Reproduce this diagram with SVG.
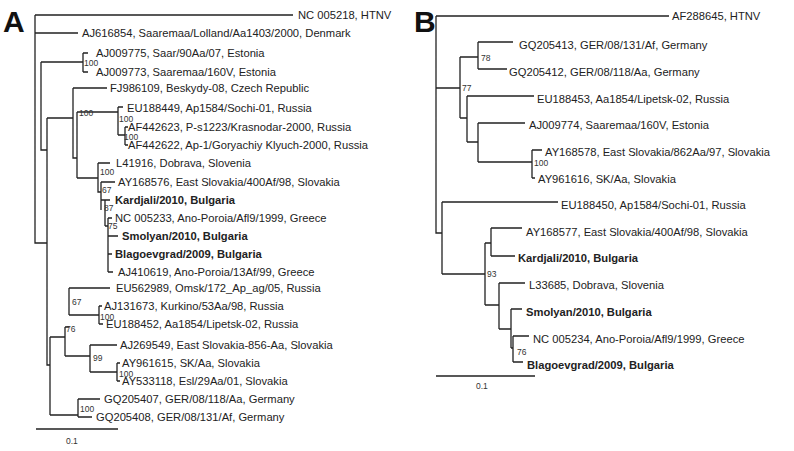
<svg xmlns="http://www.w3.org/2000/svg" width="794" height="451" viewBox="0 0 794 451">
<style>
.br{fill:none;stroke:#222;stroke-width:1.3}
.t{font-family:"Liberation Sans",Arial,sans-serif;font-size:11.2px;fill:#222}
.b{font-weight:bold}
.bs{font-family:"Liberation Sans",Arial,sans-serif;font-size:8.5px;fill:#333}
.p{font-family:"Liberation Sans",Arial,sans-serif;font-size:30px;font-weight:900;fill:#111}
</style>
<rect width="794" height="451" fill="#fff"/>
<text class="p" x="3" y="32">A</text>
<text class="p" x="414" y="32">B</text>
<g id="connectors">
<path class="br" d="M35,15V243H47 M35,15H293 M35,33H78 M41,62V150H47 M41,62H83 M83,53V72 M83,53H88 M83,72H88
M47,118V365H50 M47,118H73 M73,88V158H77 M73,88H107 M77,112V178 M77,112H118 M118,107V135 M118,107H123 M118,135H125 M125,127V145 M125,127H128 M125,145H128
M77,178H98 M98,163V192H101 M98,163H110 M101,182V210 M101,182H115 M101,200H105 M105,200V226 M105,200H110 M105,226H108 M108,218V272 M108,218H112 M108,236H118 M108,254H112 M108,272H113
M50,337V415 M50,337H65 M65,327V356 M65,327H69 M69,288V315 M69,288H110 M69,315H99 M99,306V324 M99,306H102 M99,324H103
M65,356H90 M90,345V372 M90,345H117 M90,372H117 M117,363V381 M117,363H120 M117,381H120
M50,415H78 M78,399V417 M78,399H100 M78,417H92
M36,429H118"/>
<path class="br" d="M436,16V233H442 M436,16H669 M436,88H460 M460,57V118 M460,57H478 M478,42V69 M478,42H513 M478,69H507
M460,118H467 M467,96V142 M467,96H534 M467,142H478 M478,123V162 M478,123H525 M478,162H532 M532,150V178 M532,150H542 M532,178H535
M442,202V274 M442,202H558 M442,274H485 M485,243V305 M485,243H491 M491,228V256 M491,228H522 M491,256H515
M485,305H499 M499,283V329 M499,283H525 M499,329H511 M511,309V348 M511,309H522 M511,348H513 M513,336V362 M513,336H529 M513,362H523
M436,376H535"/>
</g>
<g id="nodesA">
<g id="a1"><text class="t" x="298" y="19">NC 005218, HTNV</text></g>
<g id="a2"><text class="t" x="82" y="37">AJ616854, Saaremaa/Lolland/Aa1403/2000, Denmark</text></g>
<g id="a3"><text class="t" x="96" y="57">AJ009775, Saar/90Aa/07, Estonia</text></g>
<g id="a4"><text class="t" x="96" y="76">AJ009773, Saaremaa/160V, Estonia</text></g>
<g id="a5"><text class="t" x="110" y="92">FJ986109, Beskydy-08, Czech Republic</text></g>
<g id="a6"><text class="t" x="127" y="112">EU188449, Ap1584/Sochi-01, Russia</text></g>
<g id="a7"><text class="t" x="128" y="131">AF442623, P-s1223/Krasnodar-2000, Russia</text></g>
<g id="a8"><text class="t" x="128" y="149">AF442622, Ap-1/Goryachiy Klyuch-2000, Russia</text></g>
<g id="a9"><text class="t" x="116" y="167">L41916, Dobrava, Slovenia</text></g>
<g id="a10"><text class="t" x="118" y="186">AY168576, East Slovakia/400Af/98, Slovakia</text></g>
<g id="a11"><text class="t b" x="115" y="204">Kardjali/2010, Bulgaria</text></g>
<g id="a12"><text class="t" x="115" y="222">NC 005233, Ano-Poroia/Afl9/1999, Greece</text></g>
<g id="a13"><text class="t b" x="122" y="240">Smolyan/2010, Bulgaria</text></g>
<g id="a14"><text class="t b" x="115" y="258">Blagoevgrad/2009, Bulgaria</text></g>
<g id="a15"><text class="t" x="118" y="276">AJ410619, Ano-Poroia/13Af/99, Greece</text></g>
<g id="a16"><text class="t" x="116" y="292">EU562989, Omsk/172_Ap_ag/05, Russia</text></g>
<g id="a17"><text class="t" x="104" y="310">AJ131673, Kurkino/53Aa/98, Russia</text></g>
<g id="a18"><text class="t" x="106" y="328">EU188452, Aa1854/Lipetsk-02, Russia</text></g>
<g id="a19"><text class="t" x="120" y="349">AJ269549, East Slovakia-856-Aa, Slovakia</text></g>
<g id="a20"><text class="t" x="122" y="367">AY961615, SK/Aa, Slovakia</text></g>
<g id="a21"><text class="t" x="122" y="385">AY533118, Esl/29Aa/01, Slovakia</text></g>
<g id="a22"><text class="t" x="104" y="403">GQ205407, GER/08/118/Aa, Germany</text></g>
<g id="a23"><text class="t" x="96" y="421">GQ205408, GER/08/131/Af, Germany</text></g>
<g id="bootA">
<text class="bs" x="84" y="66">100</text>
<text class="bs" x="79" y="116">100</text>
<text class="bs" x="119" y="122">100</text>
<text class="bs" x="124" y="140">100</text>
<text class="bs" x="100" y="175">100</text>
<text class="bs" x="102" y="193">67</text>
<text class="bs" x="104" y="211">87</text>
<text class="bs" x="108" y="229">75</text>
<text class="bs" x="72" y="305">67</text>
<text class="bs" x="100" y="320">100</text>
<text class="bs" x="66" y="332">76</text>
<text class="bs" x="93" y="361">99</text>
<text class="bs" x="119" y="377">100</text>
<text class="bs" x="80" y="412">100</text>
</g>
<text class="bs" x="66" y="444">0.1</text>
</g>
<g id="nodesB">
<g id="b1"><text class="t" x="672" y="20">AF288645, HTNV</text></g>
<g id="b2"><text class="t" x="519" y="49">GQ205413, GER/08/131/Af, Germany</text></g>
<g id="b3"><text class="t" x="509" y="76">GQ205412, GER/08/118/Aa, Germany</text></g>
<g id="b4"><text class="t" x="537" y="103">EU188453, Aa1854/Lipetsk-02, Russia</text></g>
<g id="b5"><text class="t" x="529" y="129">AJ009774, Saaremaa/160V, Estonia</text></g>
<g id="b6"><text class="t" x="545" y="156">AY168578, East Slovakia/862Aa/97, Slovakia</text></g>
<g id="b7"><text class="t" x="538" y="183">AY961616, SK/Aa, Slovakia</text></g>
<g id="b8"><text class="t" x="561" y="209">EU188450, Ap1584/Sochi-01, Russia</text></g>
<g id="b9"><text class="t" x="526" y="236">AY168577, East Slovakia/400Af/98, Slovakia</text></g>
<g id="b10"><text class="t b" x="518" y="262">Kardjali/2010, Bulgaria</text></g>
<g id="b11"><text class="t" x="529" y="289">L33685, Dobrava, Slovenia</text></g>
<g id="b12"><text class="t b" x="526" y="316">Smolyan/2010, Bulgaria</text></g>
<g id="b13"><text class="t" x="533" y="343">NC 005234, Ano-Poroia/Afl9/1999, Greece</text></g>
<g id="b14"><text class="t b" x="527" y="369">Blagoevgrad/2009, Bulgaria</text></g>
<g id="bootB">
<text class="bs" x="481" y="61">78</text>
<text class="bs" x="462" y="91">77</text>
<text class="bs" x="534" y="166">100</text>
<text class="bs" x="487" y="277">93</text>
<text class="bs" x="517" y="355">76</text>
</g>
<text class="bs" x="476" y="389">0.1</text>
</g>
</svg>
